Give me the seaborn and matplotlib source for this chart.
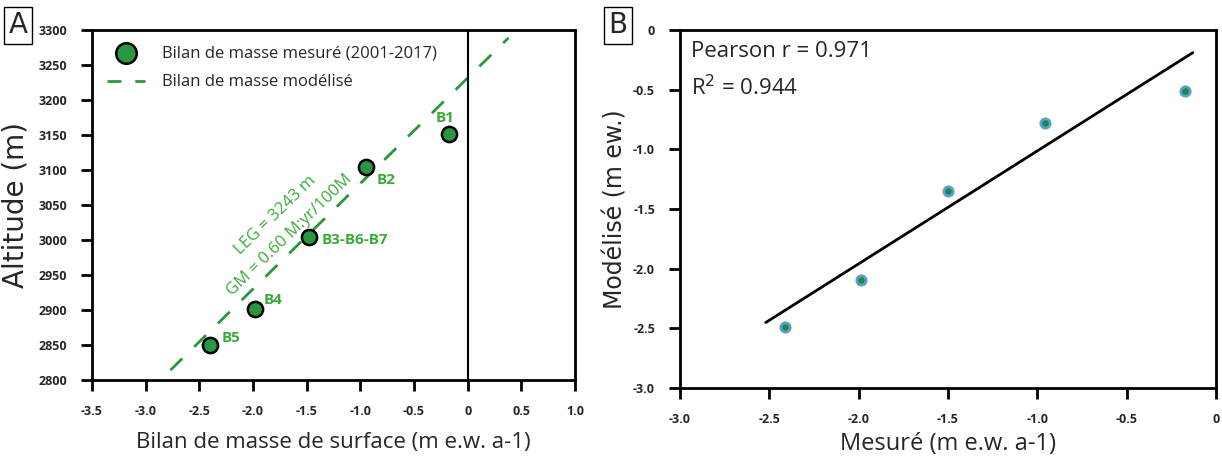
import numpy as np
import pandas as pd
import matplotlib
matplotlib.use("Agg")
import matplotlib.pyplot as plt
import seaborn as sns

# Panel A: measured balance vs altitude
bilan_mesure = [-2.40, -1.98, -1.48, -0.95, -0.17]
altitude = [2850, 2901, 3004, 3104, 3152]
balise = ["B5", "B4", "B3-B6-B7", "B2", "B1"]
# modelled balance line (end points)
bilan_modele_x = [-2.77, 0.38]
bilan_modele_y = [2814, 3289]

# Panel B: modelled vs measured
mesure = [-2.41, -1.985, -1.50, -0.96, -0.175]
modelise = [-2.49, -2.09, -1.35, -0.78, -0.51]
fit_x = [-2.52, -0.13]
fit_y = [-2.45, -0.19]

sns.set_style("ticks")
plt.rcParams["font.family"] = ["DejaVu Sans"]
narrow = ["Liberation Sans Narrow", "Open Sans", "DejaVu Sans"]

green = "#2b9640"
green_txt = "#3aaa3a"

fig = plt.figure(figsize=(12.22, 4.61), dpi=100)
axA = fig.add_axes([0.0753, 0.1757, 0.3953, 0.759])
axB = fig.add_axes([0.5565, 0.158, 0.4386, 0.777])

dfA = pd.DataFrame({"x": bilan_mesure, "y": altitude})
dfM = pd.DataFrame({"x": bilan_modele_x, "y": bilan_modele_y})
sns.lineplot(data=dfM, x="x", y="y", ax=axA, color=green, lw=2,
             label="Bilan de masse modélisé")
axA.lines[-1].set_dashes([6, 6])
sns.scatterplot(data=dfA, x="x", y="y", ax=axA, color=green, s=120,
                edgecolor="black", linewidth=1.8, zorder=5,
                label="Bilan de masse mesuré (2001-2017)")
axA.axvline(0, color="black", lw=1.5)

offsets = {"B5": (8, 5), "B4": (6, 7), "B3-B6-B7": (9, -2), "B2": (8, -9), "B1": (-10, 11)}
for x, y, t in zip(bilan_mesure, altitude, balise):
    axA.annotate(t, (x, y), xytext=offsets[t], textcoords="offset points",
                 color=green_txt, fontsize=11, fontweight="bold",
                 family=narrow, va="center")

axA.text(-1.79, 3036, "LEG = 3243 m", rotation=44, color=green_txt,
         fontsize=12, family=narrow, ha="center", va="center")
axA.text(-1.66, 3007, "GM = 0.60 M:yr/100M", rotation=44, color=green_txt,
         fontsize=12, family=narrow, ha="center", va="center")

axA.set_xlim(-3.5, 1.0)
axA.set_ylim(2800, 3300)
axA.set_xticks(np.arange(-3.5, 1.01, 0.5))
axA.set_xticklabels(["-3.5", "-3.0", "-2.5", "-2.0", "-1.5", "-1.0", "-0.5", "0", "0.5", "1.0"])
axA.set_yticks(np.arange(2800, 3301, 50))
axA.set_xlabel("Bilan de masse de surface (m e.w. a-1)", fontsize=16,
               family=narrow, labelpad=10)
axA.set_ylabel("Altitude (m)", fontsize=20, labelpad=6)

h, l = axA.get_legend_handles_labels()
leg = axA.legend(h[::-1], l[::-1], loc="upper left", frameon=False,
                 prop={"family": narrow, "size": 12}, handlelength=2.3,
                 borderaxespad=0.5, labelspacing=0.8, handletextpad=1.0,
                 markerscale=1.35)
for ln in leg.get_lines():
    ln.set_dashes([5, 5])

dfB = pd.DataFrame({"x": mesure, "y": modelise})
dfF = pd.DataFrame({"x": fit_x, "y": fit_y})
sns.lineplot(data=dfF, x="x", y="y", ax=axB, color="black", lw=2)
sns.scatterplot(data=dfB, x="x", y="y", ax=axB, color="#1a8a3c", s=45,
                edgecolor="#5a9fd4", linewidth=2, zorder=5)
axB.text(0.02, 0.94, "Pearson r = 0.971", transform=axB.transAxes,
         fontsize=16, family=narrow, va="center")
axB.text(0.02, 0.84, "R$^2$ = 0.944", transform=axB.transAxes,
         fontsize=16, family=narrow, va="center")
axB.set_xlim(-3.0, 0)
axB.set_ylim(-3.0, 0)
axB.set_xticks(np.arange(-3.0, 0.01, 0.5))
axB.set_xticklabels(["-3.0", "-2.5", "-2.0", "-1.5", "-1.0", "-0.5", "0"])
axB.set_yticks(np.arange(-3.0, 0.01, 0.5))
axB.set_yticklabels(["-3.0", "-2.5", "-2.0", "-1.5", "-1.0", "-0.5", "0"])
axB.set_xlabel("Mesuré (m e.w. a-1)", fontsize=17, family=narrow, labelpad=4)
axB.set_ylabel("Modélisé (m ew.)", fontsize=17, labelpad=4)

for ax in (axA, axB):
    for s in ax.spines.values():
        s.set_linewidth(2)
        s.set_color("black")
    ax.tick_params(direction="out", length=8, width=2, color="black",
                   labelsize=9, pad=10)
    for lab in ax.get_xticklabels() + ax.get_yticklabels():
        lab.set_fontweight("bold")
        lab.set_family(narrow)

fig.text(0.0148, 0.945, "A", fontsize=20, ha="center", va="center",
         bbox=dict(boxstyle="square,pad=0.15", fc="white", ec="black", lw=1))
fig.text(0.5058, 0.945, "B", fontsize=20, ha="center", va="center",
         bbox=dict(boxstyle="square,pad=0.15", fc="white", ec="black", lw=1))

fig.savefig("out.png", dpi=100)
